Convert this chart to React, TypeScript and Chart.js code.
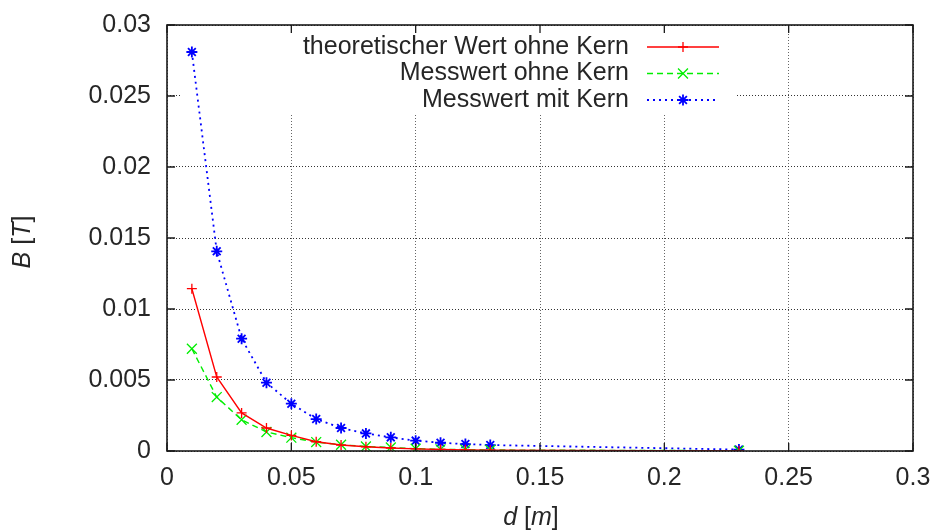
import React, { useEffect, useRef } from 'react';
import { Chart, registerables } from 'chart.js';

Chart.register(...registerables);

// ---- data ----
const distances = [0.01, 0.02, 0.03, 0.04, 0.05, 0.06, 0.07, 0.08, 0.09, 0.1, 0.11, 0.12, 0.13, 0.23];
const theoretical = [0.01143, 0.00521, 0.00268, 0.00162, 0.0011, 0.00065, 0.00042, 0.0003, 0.00021, 0.00015, 0.00011, 0.00008, 0.00006, 0.00001];
const measuredNoCore = [0.0072, 0.0038, 0.0022, 0.00134, 0.00094, 0.00063, 0.00044, 0.00032, 0.00025, 0.00016, 0.00012, 0.0001, 0.00007, 0.00002];
const measuredCore = [0.0281, 0.01406, 0.00791, 0.00481, 0.00333, 0.00225, 0.00162, 0.00124, 0.00096, 0.00073, 0.00058, 0.00049, 0.00042, 0.0001];
const seriesLabels = ['theoretischer Wert ohne Kern', 'Messwert ohne Kern', 'Messwert mit Kern'];
const xTicks = [0, 0.05, 0.1, 0.15, 0.2, 0.25, 0.3];
const xTickLabels = ['0', '0.05', '0.1', '0.15', '0.2', '0.25', '0.3'];
const yTicks = [0, 0.005, 0.01, 0.015, 0.02, 0.025, 0.03];
const yTickLabels = ['0', '0.005', '0.01', '0.015', '0.02', '0.025', '0.03'];

const FONT = '"Liberation Sans", Arial, sans-serif';
const FS = 25;
const TEXT = '#262626';

const styles = [
  { color: '#ff0000', dash: [] as number[], point: 'cross', radius: 5, pw: 1.3, lw: 1.4 },
  { color: '#00ee00', dash: [6, 4], point: 'crossRot', radius: 7, pw: 1.3, lw: 1.4 },
  { color: '#0000ff', dash: [2, 4], point: 'star', radius: 5.5, pw: 1.8, lw: 1.8 },
];

function drawMarker(ctx: CanvasRenderingContext2D, kind: string, x: number, y: number, r: number) {
  ctx.beginPath();
  const plus = () => {
    ctx.moveTo(x - r, y); ctx.lineTo(x + r, y);
    ctx.moveTo(x, y - r); ctx.lineTo(x, y + r);
  };
  const ex = () => {
    const d = r * Math.SQRT1_2;
    ctx.moveTo(x - d, y - d); ctx.lineTo(x + d, y + d);
    ctx.moveTo(x - d, y + d); ctx.lineTo(x + d, y - d);
  };
  if (kind === 'cross') plus();
  else if (kind === 'crossRot') ex();
  else { plus(); ex(); }
  ctx.stroke();
}

function drawPieces(ctx: CanvasRenderingContext2D, pieces: [string, boolean][], cx: number, y: number) {
  const widths = pieces.map(([t, it]) => {
    ctx.font = `${it ? 'italic ' : ''}${FS}px ${FONT}`;
    return ctx.measureText(t).width;
  });
  const total = widths.reduce((a, b) => a + b, 0);
  let x = cx - total / 2;
  ctx.textAlign = 'left';
  ctx.textBaseline = 'alphabetic';
  pieces.forEach(([t, it], i) => {
    ctx.font = `${it ? 'italic ' : ''}${FS}px ${FONT}`;
    ctx.fillText(t, x, y);
    x += widths[i];
  });
}

const gnuplotPlugin = {
  id: 'gnuplotLook',
  beforeDatasetsDraw(chart: any) {
    const ctx = chart.ctx as CanvasRenderingContext2D;
    ctx.save();
    ctx.fillStyle = '#ffffff';
    ctx.fillRect(180, 26, 556, 88);
    ctx.restore();
  },
  afterDatasetsDraw(chart: any) {
    const ctx = chart.ctx as CanvasRenderingContext2D;
    const a = chart.chartArea;
    const sx = chart.scales.x;
    const sy = chart.scales.y;
    ctx.save();
    // frame
    ctx.strokeStyle = '#1a1a1a';
    ctx.lineWidth = 1.6;
    ctx.setLineDash([]);
    ctx.strokeRect(a.left, a.top, a.right - a.left, a.bottom - a.top);
    // inward ticks, mirrored
    const tl = 8;
    ctx.lineWidth = 1.3;
    ctx.beginPath();
    xTicks.forEach((v) => {
      const x = sx.getPixelForValue(v);
      ctx.moveTo(x, a.bottom); ctx.lineTo(x, a.bottom - tl);
      ctx.moveTo(x, a.top); ctx.lineTo(x, a.top + tl);
    });
    yTicks.forEach((v) => {
      const y = sy.getPixelForValue(v);
      ctx.moveTo(a.left, y); ctx.lineTo(a.left + tl, y);
      ctx.moveTo(a.right, y); ctx.lineTo(a.right - tl, y);
    });
    ctx.stroke();

    // legend (gnuplot style: text right-aligned, sample on the right)
    const textRight = 629;
    const sampleL = 647;
    const sampleR = 719;
    const rows = [47, 73.5, 100];
    chart.data.datasets.forEach((ds: any, i: number) => {
      const st = styles[i];
      const y = rows[i];
      ctx.fillStyle = TEXT;
      ctx.font = `${FS}px ${FONT}`;
      ctx.textAlign = 'right';
      ctx.textBaseline = 'middle';
      ctx.fillText(ds.label, textRight, y);
      ctx.strokeStyle = st.color;
      ctx.lineWidth = st.lw;
      ctx.setLineDash(st.dash);
      ctx.beginPath();
      ctx.moveTo(sampleL, y); ctx.lineTo(sampleR, y);
      ctx.stroke();
      ctx.setLineDash([]);
      ctx.lineWidth = st.pw;
      drawMarker(ctx, st.point, (sampleL + sampleR) / 2, y, st.radius);
    });

    // axis titles
    ctx.fillStyle = TEXT;
    drawPieces(ctx, [['d', true], [' [', false], ['m', true], [']', false]], 531, 525);
    ctx.save();
    ctx.translate(30, 242);
    ctx.rotate(-Math.PI / 2);
    drawPieces(ctx, [['B', true], [' [', false], ['T', true], [']', false]], 0, 0);
    ctx.restore();
    ctx.restore();
  },
};

export default function App() {
  const ref = useRef<HTMLCanvasElement | null>(null);
  useEffect(() => {
    document.body.style.margin = '0';
    const canvas = ref.current!;
    const datasets = [theoretical, measuredNoCore, measuredCore].map((vals, i) => ({
      label: seriesLabels[i],
      data: distances.map((d, j) => ({ x: d, y: vals[j] })),
      borderColor: styles[i].color,
      backgroundColor: styles[i].color,
      borderWidth: styles[i].lw,
      borderDash: styles[i].dash,
      pointStyle: styles[i].point,
      pointRadius: styles[i].radius,
      pointBorderWidth: styles[i].pw,
      pointBorderColor: styles[i].color,
      tension: 0,
      fill: false,
    }));
    const chart = new Chart(canvas, {
      type: 'line',
      data: { datasets },
      plugins: [gnuplotPlugin],
      options: {
        animation: false,
        responsive: false,
        devicePixelRatio: 1,
        layout: { padding: { left: 0, right: 24, top: 25, bottom: 0 } },
        plugins: { legend: { display: false }, tooltip: { enabled: false } },
        scales: {
          x: {
            type: 'linear',
            min: 0,
            max: 0.3,
            afterFit: (s: any) => { s.height = 81; s.paddingLeft = 0; s.paddingRight = 0; },
            afterBuildTicks: (s: any) => { s.ticks = xTicks.map((v) => ({ value: v })); },
            border: { display: false, dash: [1, 2] },
            grid: { color: '#666', lineWidth: 1, drawTicks: false },
            ticks: {
              padding: 12,
              color: TEXT,
              font: { family: FONT, size: FS },
              maxRotation: 0,
              callback: (_v: any, i: number) => xTickLabels[i],
            },
          },
          y: {
            type: 'linear',
            min: 0,
            max: 0.03,
            afterFit: (s: any) => { s.width = 167; s.paddingTop = 0; s.paddingBottom = 0; },
            afterBuildTicks: (s: any) => { s.ticks = yTicks.map((v) => ({ value: v })); },
            border: { display: false, dash: [1, 2] },
            grid: { color: '#333', lineWidth: 1, drawTicks: false },
            ticks: {
              padding: 16,
              color: TEXT,
              font: { family: FONT, size: FS },
              callback: (_v: any, i: number) => yTickLabels[i],
            },
          },
        },
      } as any,
    });
    return () => chart.destroy();
  }, []);
  return (
    <div style={{ width: 937, height: 532 }}>
      <canvas ref={ref} width={937} height={532} style={{ display: 'block' }} />
    </div>
  );
}
